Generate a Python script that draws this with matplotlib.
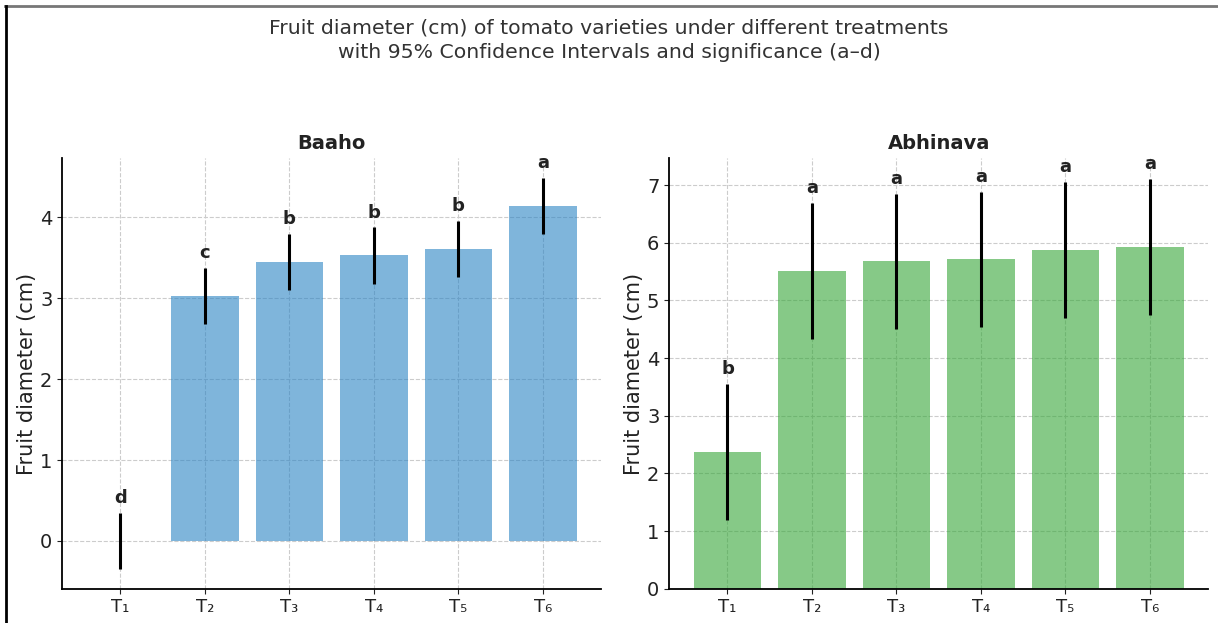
import matplotlib
matplotlib.use("Agg")
import matplotlib.pyplot as plt
from matplotlib.lines import Line2D

# treatment labels and means with 95% CI half-widths
treatments = ["T\u2081", "T\u2082", "T\u2083", "T\u2084", "T\u2085", "T\u2086"]

baaho_mean = [0.0, 3.03, 3.45, 3.53, 3.61, 4.14]
baaho_ci = [0.35, 0.35, 0.35, 0.35, 0.35, 0.35]
baaho_sig = ["d", "c", "b", "b", "b", "a"]

abhinava_mean = [2.37, 5.51, 5.68, 5.71, 5.88, 5.93]
abhinava_ci = [1.18, 1.18, 1.17, 1.17, 1.18, 1.18]
abhinava_sig = ["b", "a", "a", "a", "a", "a"]

fig, axes = plt.subplots(1, 2, figsize=(12.18, 6.23), dpi=100)
fig.subplots_adjust(left=0.051, right=0.992, top=0.746, bottom=0.055, wspace=0.126)

panels = [
    ("Baaho", baaho_mean, baaho_ci, baaho_sig, "#2a84c4"),
    ("Abhinava", abhinava_mean, abhinava_ci, abhinava_sig, "#35a637"),
]

for ax, (name, mean, ci, sig, col) in zip(axes, panels):
    x = range(len(treatments))
    ax.bar(x, mean, width=0.8, color=col, alpha=0.6, zorder=2)
    ax.errorbar(x, mean, yerr=ci, fmt="none", ecolor="black", elinewidth=2.2,
                capsize=0, zorder=3)
    for xi, m, c, s in zip(x, mean, ci, sig):
        ax.annotate(s, (xi, m + c), xytext=(0, 4), textcoords="offset points",
                    ha="center", va="bottom", fontsize=13, fontweight="bold",
                    color="#222222")
    ax.set_xticks(list(x))
    ax.set_xticklabels(treatments)
    ax.set_title(name, fontsize=14, fontweight="bold", color="#222222", pad=7)
    ax.set_ylabel("Fruit diameter (cm)", fontsize=15, color="#222222", labelpad=2)
    ax.tick_params(axis="y", labelsize=14, colors="#222222")
    ax.tick_params(axis="x", labelsize=13, colors="#222222")
    ax.grid(True, linestyle="--", color="#cccccc", linewidth=0.8, zorder=0)
    ax.set_axisbelow(True)
    ax.spines["top"].set_visible(False)
    ax.spines["right"].set_visible(False)
    ax.spines["left"].set_linewidth(1.3)
    ax.spines["bottom"].set_linewidth(1.3)

axes[1].set_ylim(bottom=0)

fig.suptitle("Fruit diameter (cm) of tomato varieties under different treatments\n"
             "with 95% Confidence Intervals and significance (a\u2013d)",
             fontsize=14.7, color="#333333", y=0.971, linespacing=1.4)

# frame edges around the figure
fig.add_artist(Line2D([0.004, 1.0], [0.990, 0.990], transform=fig.transFigure,
                      color="#777777", linewidth=2))
fig.add_artist(Line2D([0.005, 0.005], [0.0, 0.990], transform=fig.transFigure,
                      color="black", linewidth=2))

fig.savefig("out.png", dpi=100)
